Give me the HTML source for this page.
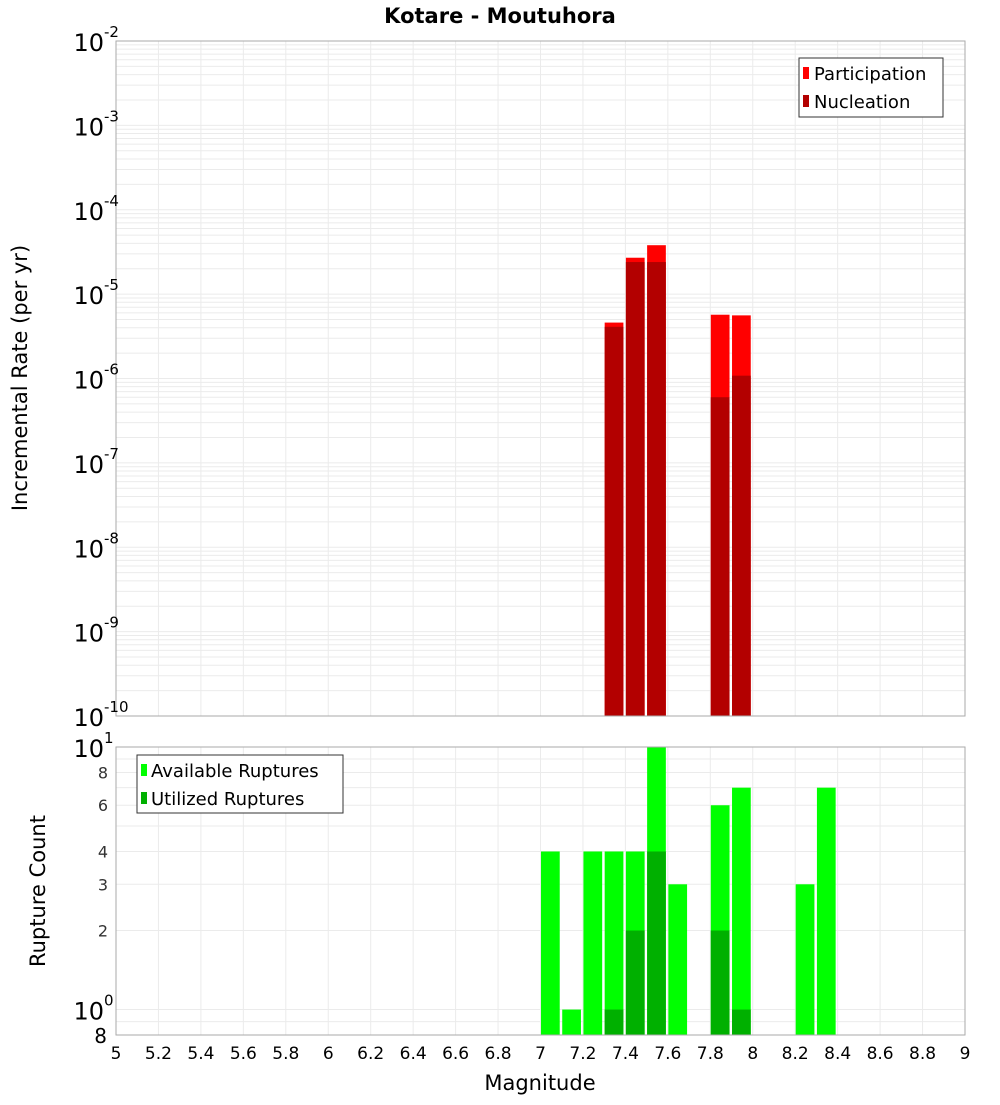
<!DOCTYPE html>
<html><head><meta charset="utf-8"><style>
body{margin:0;background:#fff;}
svg text{font-family:"DejaVu Sans","Liberation Sans",sans-serif;}
</style></head><body>
<svg id="chart" width="1000" height="1100" xmlns="http://www.w3.org/2000/svg">
<text x="500" y="23" text-anchor="middle" font-size="21" font-weight="bold">Kotare - Moutuhora</text>
<g id="topg"></g>
<g id="botg"></g>
<text transform="translate(27,378) rotate(-90)" text-anchor="middle" font-size="21">Incremental Rate (per yr)</text>
<text transform="translate(45,891) rotate(-90)" text-anchor="middle" font-size="21">Rupture Count</text>
<text x="540" y="1090" text-anchor="middle" font-size="21">Magnitude</text>
<g>
<rect x="799" y="58" width="144" height="59" fill="#fff" stroke="#333"/>
<rect x="803" y="67" width="6" height="12" fill="#ff0000"/>
<text x="814" y="80" font-size="18">Participation</text>
<rect x="803" y="95" width="6" height="12" fill="#b30000"/>
<text x="814" y="108" font-size="18">Nucleation</text>
</g>
<g>
<rect x="137" y="755" width="206" height="58" fill="#fff" stroke="#333"/>
<rect x="141" y="764" width="6" height="12" fill="#00ff00"/>
<text x="151" y="777" font-size="18">Available Ruptures</text>
<rect x="141" y="792" width="6" height="12" fill="#00b000"/>
<text x="151" y="805" font-size="18">Utilized Ruptures</text>
</g>
</svg>
<script>
const mags=[7.3,7.4,7.5,7.8,7.9];
const participation=[4.6e-6,2.7e-5,3.8e-5,5.7e-6,5.6e-6];
const nucleation=[4.1e-6,2.4e-5,2.4e-5,6.0e-7,1.08e-6];
const countMags=[7.0,7.1,7.2,7.3,7.4,7.5,7.6,7.8,7.9,8.2,8.3];
const available=[4,1,4,4,4,10,3,6,7,3,7];
const utilizedMags=[7.3,7.4,7.5,7.8,7.9];
const utilized=[1,2,4,2,1];
const xTicks=[5,5.2,5.4,5.6,5.8,6,6.2,6.4,6.6,6.8,7,7.2,7.4,7.6,7.8,8,8.2,8.4,8.6,8.8,9];
const topExps=[-2,-3,-4,-5,-6,-7,-8,-9,-10];
const botTicks=[8,6,4,3,2];

const NS='http://www.w3.org/2000/svg';
const X0=116,X1=965;
const xs=m=>X0+(m-5)/4*(X1-X0);
const TT=41,TB=716;
const yT=v=>TB-(Math.log10(v)+10)/8*(TB-TT);
const BT=747,BB=1035;
const lmin=Math.log10(0.8);
const yB=v=>BB-(Math.log10(v)-lmin)/(1-lmin)*(BB-BT);
function el(p,t,a){const e=document.createElementNS(NS,t);for(const k in a)e.setAttribute(k,a[k]);p.appendChild(e);return e;}
const topG=document.getElementById('topg'),botG=document.getElementById('botg');
for(let d=-10;d<-2;d++)for(let k=1;k<10;k++){const y=yT(k*Math.pow(10,d));const g=el(topG,'line',{x1:X0,x2:X1,y1:y,y2:y,stroke:'#ebebeb','stroke-width':1});
 
 }
xTicks.forEach(t=>{const g=el(topG,'line',{x1:xs(t),x2:xs(t),y1:TT,y2:TB,stroke:'#ebebeb'});
 
 
 const h=el(botG,'line',{x1:xs(t),x2:xs(t),y1:BT,y2:BB,stroke:'#ebebeb'});
 
 });
for(let k=8;k<=10;k++){const y=yB(k/10);const g=el(botG,'line',{x1:X0,x2:X1,y1:y,y2:y,stroke:'#ebebeb'});
 
 }
for(let k=2;k<10;k++){const y=yB(k);const g=el(botG,'line',{x1:X0,x2:X1,y1:y,y2:y,stroke:'#ebebeb'});
 
 }
mags.forEach((m,i)=>{
 const x0=xs(m)+0.5,w=xs(m+0.1)-xs(m)-2.5;
 let r=el(topG,'rect',{x:x0,y:yT(participation[i]),width:w,height:TB-yT(participation[i]),fill:'#ff0000'});
 
 
 r=el(topG,'rect',{x:x0,y:yT(nucleation[i]),width:w,height:TB-yT(nucleation[i]),fill:'#b30000'});
 
 
});
countMags.forEach((m,i)=>{
 const x0=xs(m)+0.5,w=xs(m+0.1)-xs(m)-2.5;
 const r=el(botG,'rect',{x:x0,y:yB(available[i]),width:w,height:BB-yB(available[i]),fill:'#00ff00'});
 
 
});
utilizedMags.forEach((m,i)=>{
 const x0=xs(m)+0.5,w=xs(m+0.1)-xs(m)-2.5;
 const r=el(botG,'rect',{x:x0,y:yB(utilized[i]),width:w,height:BB-yB(utilized[i]),fill:'#00b000'});
 
 
});
el(topG,'rect',{x:X0,y:TT,width:X1-X0,height:TB-TT,fill:'none',stroke:'#aaa'});
el(botG,'rect',{x:X0,y:BT,width:X1-X0,height:BB-BT,fill:'none',stroke:'#aaa'});
topExps.forEach(e=>{const y=yT(Math.pow(10,e));
 const t=el(topG,'text',{x:104,y:y+10,'text-anchor':'end','font-size':24});t.textContent='10';
 
 
 const s=el(topG,'text',{x:104,y:y-4,'font-size':15});s.textContent=String(e);
 
 });
[[10,'1'],[1,'0']].forEach(([v,e])=>{const y=yB(v);
 const t=el(botG,'text',{x:104,y:y+10,'text-anchor':'end','font-size':24});t.textContent='10';
 
 
 const s=el(botG,'text',{x:104,y:y-4,'font-size':15});s.textContent=e;
 
 });
botTicks.forEach(v=>{const t=el(botG,'text',{x:108,y:yB(v)+6,'text-anchor':'end','font-size':16,fill:'#333'});t.textContent=String(v);
 
 });
{const t=el(botG,'text',{x:107,y:BB+8,'text-anchor':'end','font-size':20});t.textContent='8';
 
 }
xTicks.forEach(v=>{const t=el(botG,'text',{x:xs(v),y:1059,'text-anchor':'middle','font-size':17});t.textContent=String(v);
 
 });
</script>
</body></html>
